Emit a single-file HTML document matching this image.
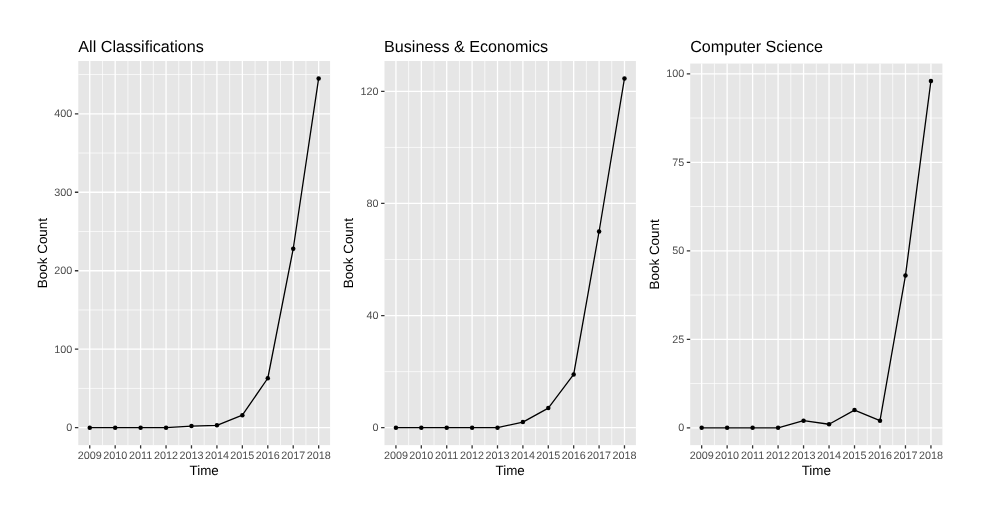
<!DOCTYPE html>
<html><head><meta charset="utf-8"><title>Book Count</title><style>html,body{margin:0;padding:0;background:#fff}body{width:988px;height:506px;overflow:hidden}</style></head><body>
<svg width="988" height="506" viewBox="0 0 988 506" style="display:block" text-rendering="geometricPrecision" font-family="'Liberation Sans', sans-serif">
<rect width="988" height="506" fill="#fff"/>
<rect x="78.30" y="61.00" width="251.80" height="384.15" fill="#E6E6E6"/>
<path d="M78.30 388.45H330.10M78.30 309.97H330.10M78.30 231.49H330.10M78.30 153.02H330.10M78.30 74.54H330.10M102.46 61.00V445.15M127.90 61.00V445.15M153.33 61.00V445.15M178.77 61.00V445.15M204.20 61.00V445.15M229.63 61.00V445.15M255.07 61.00V445.15M280.50 61.00V445.15M305.94 61.00V445.15" stroke="#fff" stroke-width="0.7" fill="none"/>
<path d="M78.30 427.69H330.10M78.30 349.21H330.10M78.30 270.73H330.10M78.30 192.25H330.10M78.30 113.78H330.10M89.75 61.00V445.15M115.18 61.00V445.15M140.61 61.00V445.15M166.05 61.00V445.15M191.48 61.00V445.15M216.92 61.00V445.15M242.35 61.00V445.15M267.79 61.00V445.15M293.22 61.00V445.15M318.65 61.00V445.15" stroke="#fff" stroke-width="1.3" fill="none"/>
<path d="M74.90 427.69H78.30M74.90 349.21H78.30M74.90 270.73H78.30M74.90 192.25H78.30M74.90 113.78H78.30M89.75 445.15V448.55M115.18 445.15V448.55M140.61 445.15V448.55M166.05 445.15V448.55M191.48 445.15V448.55M216.92 445.15V448.55M242.35 445.15V448.55M267.79 445.15V448.55M293.22 445.15V448.55M318.65 445.15V448.55" stroke="#333" stroke-width="1.3" fill="none"/>
<polyline points="89.75,427.69 115.18,427.69 140.61,427.69 166.05,427.69 191.48,426.12 216.92,425.33 242.35,415.13 267.79,378.25 293.22,248.76 318.65,78.46" stroke="#000" stroke-width="1.3" fill="none" stroke-linejoin="round"/>
<circle cx="89.75" cy="427.69" r="2.25" fill="#000"/>
<circle cx="115.18" cy="427.69" r="2.25" fill="#000"/>
<circle cx="140.61" cy="427.69" r="2.25" fill="#000"/>
<circle cx="166.05" cy="427.69" r="2.25" fill="#000"/>
<circle cx="191.48" cy="426.12" r="2.25" fill="#000"/>
<circle cx="216.92" cy="425.33" r="2.25" fill="#000"/>
<circle cx="242.35" cy="415.13" r="2.25" fill="#000"/>
<circle cx="267.79" cy="378.25" r="2.25" fill="#000"/>
<circle cx="293.22" cy="248.76" r="2.25" fill="#000"/>
<circle cx="318.65" cy="78.46" r="2.25" fill="#000"/>
<text x="72.30" y="431.34" font-size="10.8" fill="#4D4D4D" text-anchor="end">0</text>
<text x="72.30" y="352.86" font-size="10.8" fill="#4D4D4D" text-anchor="end">100</text>
<text x="72.30" y="274.38" font-size="10.8" fill="#4D4D4D" text-anchor="end">200</text>
<text x="72.30" y="195.90" font-size="10.8" fill="#4D4D4D" text-anchor="end">300</text>
<text x="72.30" y="117.43" font-size="10.8" fill="#4D4D4D" text-anchor="end">400</text>
<text x="89.75" y="459.45" font-size="10.8" fill="#4D4D4D" text-anchor="middle">2009</text>
<text x="115.18" y="459.45" font-size="10.8" fill="#4D4D4D" text-anchor="middle">2010</text>
<text x="140.61" y="459.45" font-size="10.8" fill="#4D4D4D" text-anchor="middle">2011</text>
<text x="166.05" y="459.45" font-size="10.8" fill="#4D4D4D" text-anchor="middle">2012</text>
<text x="191.48" y="459.45" font-size="10.8" fill="#4D4D4D" text-anchor="middle">2013</text>
<text x="216.92" y="459.45" font-size="10.8" fill="#4D4D4D" text-anchor="middle">2014</text>
<text x="242.35" y="459.45" font-size="10.8" fill="#4D4D4D" text-anchor="middle">2015</text>
<text x="267.79" y="459.45" font-size="10.8" fill="#4D4D4D" text-anchor="middle">2016</text>
<text x="293.22" y="459.45" font-size="10.8" fill="#4D4D4D" text-anchor="middle">2017</text>
<text x="318.65" y="459.45" font-size="10.8" fill="#4D4D4D" text-anchor="middle">2018</text>
<text x="204.20" y="475.45" font-size="13.4" fill="#000" text-anchor="middle">Time</text>
<text transform="translate(46.90 253.07) rotate(-90)" font-size="13.45" fill="#000" text-anchor="middle">Book Count</text>
<text x="78.30" y="52.4" font-size="16.15" fill="#000">All Classifications</text>
<rect x="384.50" y="61.00" width="251.40" height="384.15" fill="#E6E6E6"/>
<path d="M384.50 371.63H635.90M384.50 259.52H635.90M384.50 147.41H635.90M408.62 61.00V445.15M434.02 61.00V445.15M459.41 61.00V445.15M484.81 61.00V445.15M510.20 61.00V445.15M535.59 61.00V445.15M560.99 61.00V445.15M586.38 61.00V445.15M611.78 61.00V445.15" stroke="#fff" stroke-width="0.7" fill="none"/>
<path d="M384.50 427.69H635.90M384.50 315.58H635.90M384.50 203.47H635.90M384.50 91.35H635.90M395.93 61.00V445.15M421.32 61.00V445.15M446.72 61.00V445.15M472.11 61.00V445.15M497.50 61.00V445.15M522.90 61.00V445.15M548.29 61.00V445.15M573.68 61.00V445.15M599.08 61.00V445.15M624.47 61.00V445.15" stroke="#fff" stroke-width="1.3" fill="none"/>
<path d="M381.10 427.69H384.50M381.10 315.58H384.50M381.10 203.47H384.50M381.10 91.35H384.50M395.93 445.15V448.55M421.32 445.15V448.55M446.72 445.15V448.55M472.11 445.15V448.55M497.50 445.15V448.55M522.90 445.15V448.55M548.29 445.15V448.55M573.68 445.15V448.55M599.08 445.15V448.55M624.47 445.15V448.55" stroke="#333" stroke-width="1.3" fill="none"/>
<polyline points="395.93,427.69 421.32,427.69 446.72,427.69 472.11,427.69 497.50,427.69 522.90,422.08 548.29,408.07 573.68,374.44 599.08,231.49 624.47,78.46" stroke="#000" stroke-width="1.3" fill="none" stroke-linejoin="round"/>
<circle cx="395.93" cy="427.69" r="2.25" fill="#000"/>
<circle cx="421.32" cy="427.69" r="2.25" fill="#000"/>
<circle cx="446.72" cy="427.69" r="2.25" fill="#000"/>
<circle cx="472.11" cy="427.69" r="2.25" fill="#000"/>
<circle cx="497.50" cy="427.69" r="2.25" fill="#000"/>
<circle cx="522.90" cy="422.08" r="2.25" fill="#000"/>
<circle cx="548.29" cy="408.07" r="2.25" fill="#000"/>
<circle cx="573.68" cy="374.44" r="2.25" fill="#000"/>
<circle cx="599.08" cy="231.49" r="2.25" fill="#000"/>
<circle cx="624.47" cy="78.46" r="2.25" fill="#000"/>
<text x="378.50" y="431.34" font-size="10.8" fill="#4D4D4D" text-anchor="end">0</text>
<text x="378.50" y="319.23" font-size="10.8" fill="#4D4D4D" text-anchor="end">40</text>
<text x="378.50" y="207.12" font-size="10.8" fill="#4D4D4D" text-anchor="end">80</text>
<text x="378.50" y="95.00" font-size="10.8" fill="#4D4D4D" text-anchor="end">120</text>
<text x="395.93" y="459.45" font-size="10.8" fill="#4D4D4D" text-anchor="middle">2009</text>
<text x="421.32" y="459.45" font-size="10.8" fill="#4D4D4D" text-anchor="middle">2010</text>
<text x="446.72" y="459.45" font-size="10.8" fill="#4D4D4D" text-anchor="middle">2011</text>
<text x="472.11" y="459.45" font-size="10.8" fill="#4D4D4D" text-anchor="middle">2012</text>
<text x="497.50" y="459.45" font-size="10.8" fill="#4D4D4D" text-anchor="middle">2013</text>
<text x="522.90" y="459.45" font-size="10.8" fill="#4D4D4D" text-anchor="middle">2014</text>
<text x="548.29" y="459.45" font-size="10.8" fill="#4D4D4D" text-anchor="middle">2015</text>
<text x="573.68" y="459.45" font-size="10.8" fill="#4D4D4D" text-anchor="middle">2016</text>
<text x="599.08" y="459.45" font-size="10.8" fill="#4D4D4D" text-anchor="middle">2017</text>
<text x="624.47" y="459.45" font-size="10.8" fill="#4D4D4D" text-anchor="middle">2018</text>
<text x="510.20" y="475.45" font-size="13.4" fill="#000" text-anchor="middle">Time</text>
<text transform="translate(353.10 253.07) rotate(-90)" font-size="13.45" fill="#000" text-anchor="middle">Book Count</text>
<text x="384.00" y="52.4" font-size="16.15" fill="#000">Business &amp; Economics</text>
<rect x="690.20" y="63.55" width="252.20" height="381.60" fill="#E6E6E6"/>
<path d="M690.20 383.56H942.40M690.20 295.06H942.40M690.20 206.56H942.40M690.20 118.06H942.40M714.40 63.55V445.15M739.88 63.55V445.15M765.35 63.55V445.15M790.83 63.55V445.15M816.30 63.55V445.15M841.77 63.55V445.15M867.25 63.55V445.15M892.72 63.55V445.15M918.20 63.55V445.15" stroke="#fff" stroke-width="0.7" fill="none"/>
<path d="M690.20 427.80H942.40M690.20 339.31H942.40M690.20 250.81H942.40M690.20 162.31H942.40M690.20 73.82H942.40M701.66 63.55V445.15M727.14 63.55V445.15M752.61 63.55V445.15M778.09 63.55V445.15M803.56 63.55V445.15M829.04 63.55V445.15M854.51 63.55V445.15M879.99 63.55V445.15M905.46 63.55V445.15M930.94 63.55V445.15" stroke="#fff" stroke-width="1.3" fill="none"/>
<path d="M686.80 427.80H690.20M686.80 339.31H690.20M686.80 250.81H690.20M686.80 162.31H690.20M686.80 73.82H690.20M701.66 445.15V448.55M727.14 445.15V448.55M752.61 445.15V448.55M778.09 445.15V448.55M803.56 445.15V448.55M829.04 445.15V448.55M854.51 445.15V448.55M879.99 445.15V448.55M905.46 445.15V448.55M930.94 445.15V448.55" stroke="#333" stroke-width="1.3" fill="none"/>
<polyline points="701.66,427.80 727.14,427.80 752.61,427.80 778.09,427.80 803.56,420.72 829.04,424.26 854.51,410.11 879.99,420.72 905.46,275.59 930.94,80.90" stroke="#000" stroke-width="1.3" fill="none" stroke-linejoin="round"/>
<circle cx="701.66" cy="427.80" r="2.25" fill="#000"/>
<circle cx="727.14" cy="427.80" r="2.25" fill="#000"/>
<circle cx="752.61" cy="427.80" r="2.25" fill="#000"/>
<circle cx="778.09" cy="427.80" r="2.25" fill="#000"/>
<circle cx="803.56" cy="420.72" r="2.25" fill="#000"/>
<circle cx="829.04" cy="424.26" r="2.25" fill="#000"/>
<circle cx="854.51" cy="410.11" r="2.25" fill="#000"/>
<circle cx="879.99" cy="420.72" r="2.25" fill="#000"/>
<circle cx="905.46" cy="275.59" r="2.25" fill="#000"/>
<circle cx="930.94" cy="80.90" r="2.25" fill="#000"/>
<text x="684.20" y="431.45" font-size="10.8" fill="#4D4D4D" text-anchor="end">0</text>
<text x="684.20" y="342.96" font-size="10.8" fill="#4D4D4D" text-anchor="end">25</text>
<text x="684.20" y="254.46" font-size="10.8" fill="#4D4D4D" text-anchor="end">50</text>
<text x="684.20" y="165.96" font-size="10.8" fill="#4D4D4D" text-anchor="end">75</text>
<text x="684.20" y="77.47" font-size="10.8" fill="#4D4D4D" text-anchor="end">100</text>
<text x="701.66" y="459.45" font-size="10.8" fill="#4D4D4D" text-anchor="middle">2009</text>
<text x="727.14" y="459.45" font-size="10.8" fill="#4D4D4D" text-anchor="middle">2010</text>
<text x="752.61" y="459.45" font-size="10.8" fill="#4D4D4D" text-anchor="middle">2011</text>
<text x="778.09" y="459.45" font-size="10.8" fill="#4D4D4D" text-anchor="middle">2012</text>
<text x="803.56" y="459.45" font-size="10.8" fill="#4D4D4D" text-anchor="middle">2013</text>
<text x="829.04" y="459.45" font-size="10.8" fill="#4D4D4D" text-anchor="middle">2014</text>
<text x="854.51" y="459.45" font-size="10.8" fill="#4D4D4D" text-anchor="middle">2015</text>
<text x="879.99" y="459.45" font-size="10.8" fill="#4D4D4D" text-anchor="middle">2016</text>
<text x="905.46" y="459.45" font-size="10.8" fill="#4D4D4D" text-anchor="middle">2017</text>
<text x="930.94" y="459.45" font-size="10.8" fill="#4D4D4D" text-anchor="middle">2018</text>
<text x="816.30" y="475.45" font-size="13.4" fill="#000" text-anchor="middle">Time</text>
<text transform="translate(658.80 254.35) rotate(-90)" font-size="13.45" fill="#000" text-anchor="middle">Book Count</text>
<text x="690.20" y="52.4" font-size="16.15" fill="#000">Computer Science</text>
</svg>
</body></html>
